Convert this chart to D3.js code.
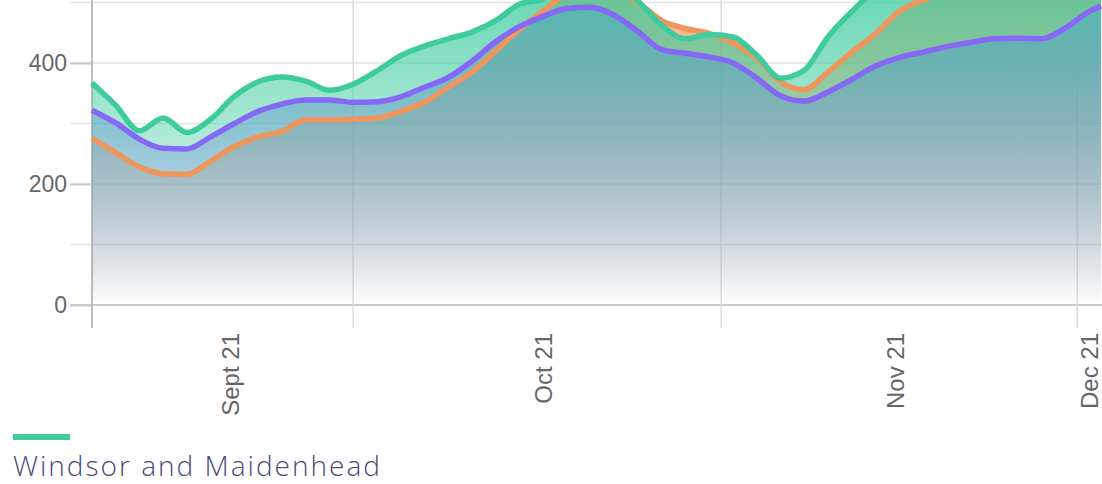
<!DOCTYPE html>
<html>
<head>
<meta charset="utf-8">
<script src="https://cdn.jsdelivr.net/npm/d3@7"></script>
<style>
  body { margin: 0; background: #fff; }
  svg { display: block; }
</style>
</head>
<body>
<svg id="chart"></svg>
<script>

// every other day, Sept 9 -> Dec 3 2021
var dates = [
  "2021-09-09","2021-09-11","2021-09-13","2021-09-15","2021-09-17","2021-09-19",
  "2021-09-21","2021-09-23","2021-09-25","2021-09-27","2021-09-29","2021-10-01",
  "2021-10-03","2021-10-05","2021-10-07","2021-10-09","2021-10-11","2021-10-13",
  "2021-10-15","2021-10-17","2021-10-19","2021-10-21","2021-10-23","2021-10-25",
  "2021-10-27","2021-10-29","2021-10-31","2021-11-02","2021-11-04","2021-11-06",
  "2021-11-08","2021-11-10","2021-11-12","2021-11-14","2021-11-16","2021-11-18",
  "2021-11-20","2021-11-22","2021-11-24","2021-11-26","2021-11-28","2021-11-30",
  "2021-12-02","2021-12-03"
];

var greenValues = [
  367, 330, 288, 309, 285, 307, 345, 369, 377, 370, 355, 365,
  387, 412, 428, 440, 451, 470, 497, 506, 530, 545, 532, 502,
  462, 440, 447, 443, 413, 375, 388, 443, 485, 520, 535, 548,
  556, 562, 566, 570, 574, 578, 582, 584
];

var orangeValues = [
  276, 252, 228, 217, 216, 238, 262, 278, 287, 306, 306, 307,
  309, 320, 335, 360, 385, 420, 455, 486, 515, 530, 520, 500,
  470, 457, 449, 433, 408, 369, 356, 385, 418, 448, 485, 504,
  515, 525, 532, 538, 544, 550, 556, 558
];

var purpleValues = [
  322, 301, 274, 259, 258, 278, 300, 320, 332, 339, 339, 335,
  336, 344, 360, 376, 403, 435, 460, 477, 490, 492, 479, 452,
  422, 416, 410, 400, 375, 346, 337, 352, 373, 395, 409, 418,
  427, 434, 440, 441, 440, 458, 485, 494
];

var yGrid = [0, 100, 200, 300, 400, 500];
var yLabels = [0, 200, 400];
var monthStarts = ["2021-09-09", "2021-10-01", "2021-11-01", "2021-12-01"];
var xLabels = ["Sept 21", "Oct 21", "Nov 21", "Dec 21"];
var xLabelDates = ["2021-09-20T16:00", "2021-10-17T00:00", "2021-11-15T16:00", "2021-12-02T00:00"];
var legendName = "Windsor and Maidenhead";

var W = 1102, H = 484;
var parse = d3.utcParse("%Y-%m-%d");
var parseT = d3.utcParse("%Y-%m-%dT%H:%M");

var x = d3.scaleUtc()
  .domain([parse("2021-09-09"), parse("2021-12-03")])
  .range([92, 1101]);

var y = d3.scaleLinear()
  .domain([0, 400])
  .range([305, 63]);

var svg = d3.select('#chart')
  .attr('width', W)
  .attr('height', H);

var defs = svg.append('defs');

// series drawn bottom to top: orange, purple, green
var series = [
  {name: 'orange', color: '#f0955b', values: orangeValues},
  {name: 'purple', color: '#8568f5', values: purpleValues},
  {name: 'green', color: '#3ecc9f', values: greenValues}
];

series.forEach(function(s){
  var g = defs.append('linearGradient')
    .attr('id', 'grad-' + s.name)
    .attr('gradientUnits', 'userSpaceOnUse')
    .attr('x1', 0).attr('x2', 0)
    .attr('y1', y(0)).attr('y2', y(600));
  g.append('stop').attr('offset', 0).attr('stop-color', s.color).attr('stop-opacity', 0);
  g.append('stop').attr('offset', 1).attr('stop-color', s.color).attr('stop-opacity', 0.9);
});

// grid
svg.append('g')
  .selectAll('line')
  .data(yGrid)
  .enter()
  .append('line')
  .attr('x1', 70)
  .attr('x2', W)
  .attr('y1', function(d){ return y(d); })
  .attr('y2', function(d){ return y(d); })
  .style('stroke', function(d){ return d === 0 ? '#c9c9cc' : '#e2e2e4'; })
  .style('stroke-width', function(d){ return d === 0 ? 2 : 1.5; });

svg.append('g')
  .selectAll('line')
  .data(monthStarts)
  .enter()
  .append('line')
  .attr('x1', function(d){ return x(parse(d)); })
  .attr('x2', function(d){ return x(parse(d)); })
  .attr('y1', 0)
  .attr('y2', 328)
  .style('stroke', function(d, i){ return i === 0 ? '#a9a9ad' : '#dcdce0'; })
  .style('stroke-width', 1.5);

// areas + lines
var area = d3.area()
  .x(function(d){ return x(d.date); })
  .y0(y(0))
  .y1(function(d){ return y(d.value); })
  .curve(d3.curveMonotoneX);

var line = d3.line()
  .x(function(d){ return x(d.date); })
  .y(function(d){ return y(d.value); })
  .curve(d3.curveMonotoneX);

series.forEach(function(s){
  s.points = dates.map(function(d, i){ return {date: parse(d), value: s.values[i]}; });
  svg.append('path')
    .datum(s.points)
    .attr('d', area)
    .style('fill', 'url(#grad-' + s.name + ')');
});

series.forEach(function(s){
  svg.append('path')
    .datum(s.points)
    .attr('d', line)
    .style('fill', 'none')
    .style('stroke', s.color)
    .style('stroke-width', 5.5)
    .style('stroke-linejoin', 'round');
});

// y axis labels
var yAxis = svg.append('g')
  .attr('transform', 'translate(92,0)')
  .call(d3.axisLeft(y).tickValues(yLabels).tickSize(22).tickPadding(3));
yAxis.select('.domain').remove();
yAxis.selectAll('line').style('stroke', '#c9c9cc').style('stroke-width', 2);
yAxis.selectAll('text')
  .style('font-family', 'Liberation Sans, Arial, sans-serif')
  .style('font-size', '23px')
  .style('fill', '#666');

// x labels (rotated)
svg.append('g')
  .selectAll('text')
  .data(xLabels)
  .enter()
  .append('text')
  .attr('transform', function(d, i){
    return 'translate(' + x(parseT(xLabelDates[i])) + ',333) rotate(-90)';
  })
  .attr('dy', '0.36em')
  .attr('text-anchor', 'end')
  .style('font-family', 'Liberation Sans, Arial, sans-serif')
  .style('font-size', '24px')
  .style('fill', '#666')
  .text(function(d){ return d; });

// legend
svg.append('line')
  .attr('x1', 13).attr('x2', 70)
  .attr('y1', 437).attr('y2', 437)
  .style('stroke', '#3ecc9f')
  .style('stroke-width', 6);

svg.append('text')
  .attr('x', 13)
  .attr('y', 476)
  .attr('textLength', 367)
  .attr('lengthAdjust', 'spacing')
  .style('font-family', 'Open Sans, sans-serif')
  .style('font-weight', 300)
  .style('font-size', '28px')
  .style('fill', '#4a4a7c')
  .text(legendName);

</script>
</body>
</html>
